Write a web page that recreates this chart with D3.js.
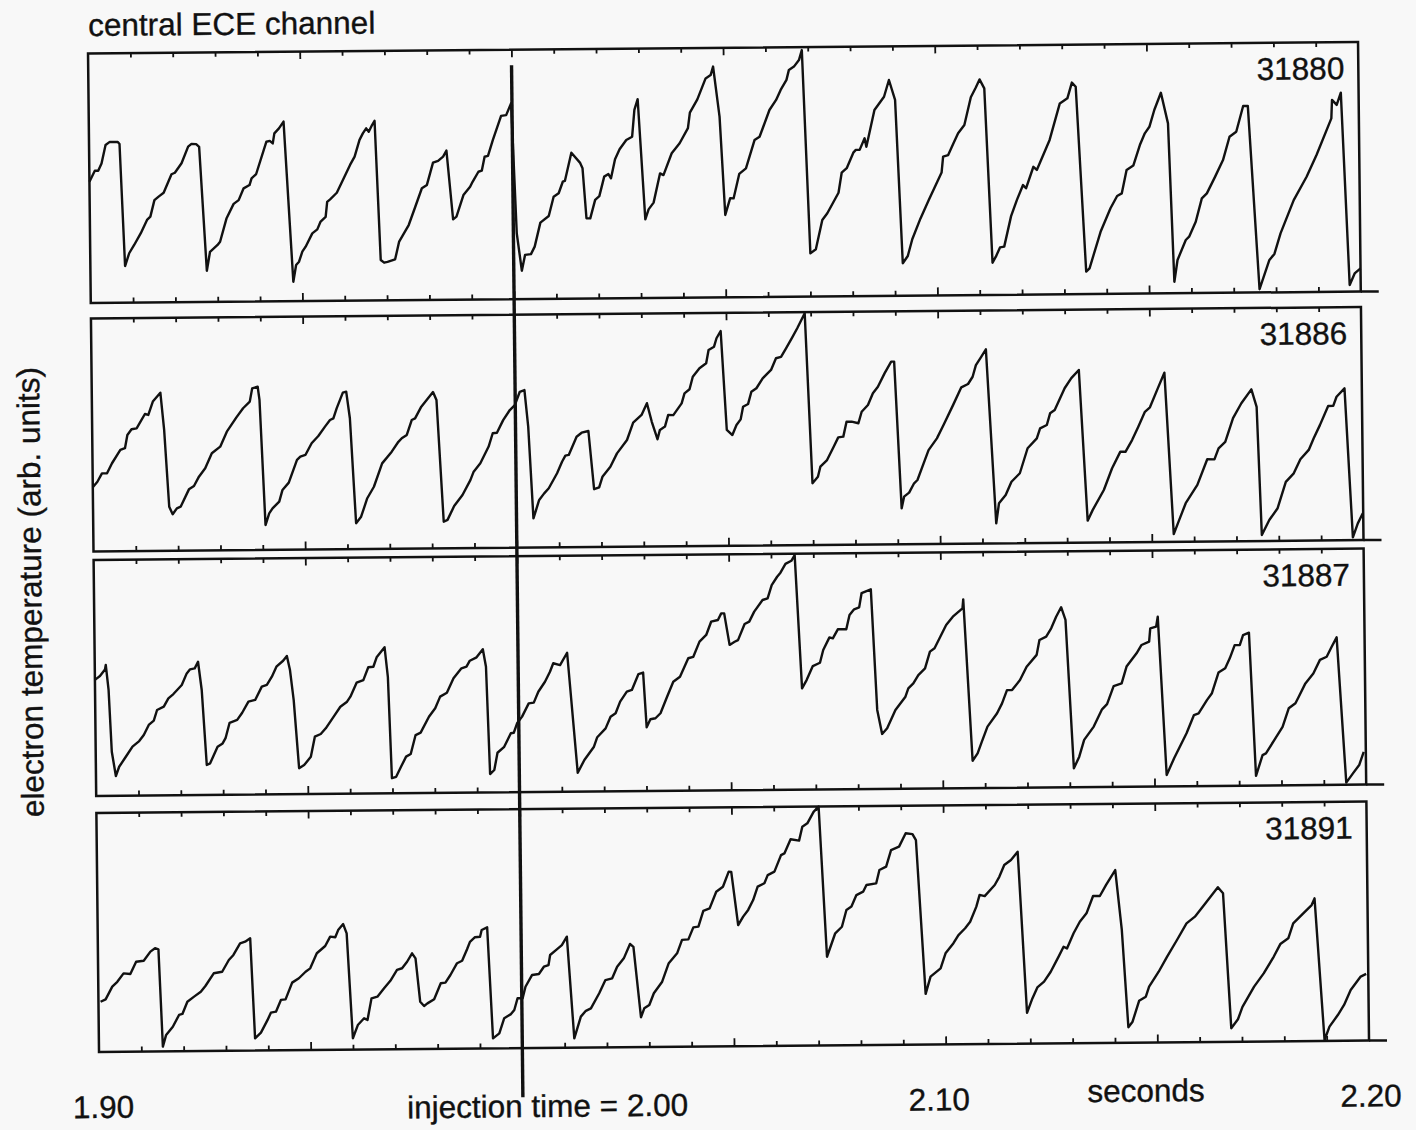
<!DOCTYPE html>
<html>
<head>
<meta charset="utf-8">
<script src="https://cdn.jsdelivr.net/npm/d3@7"></script>
<style>
  html, body { margin: 0; padding: 0; background: #f8f8f8; }
  svg { display: block; }
  text { font-family: "Liberation Sans", Arial, Helvetica, sans-serif; fill: #111; stroke: #111; stroke-width: 0.35px; }
</style>
</head>
<body>
<svg id="chart" width="1416" height="1130"></svg>
<script>
// ---- data -----------------------------------------------------------
const titleText = "central ECE channel";
const yAxisTitle = "electron temperature (arb. units)";
const xAxisTitle = "seconds";
const shotNumbers = ["31880", "31886", "31887", "31891"];
const timeRange = [1.90, 2.20];
const injectionTime = 2.00;
const tickLabelTimes = [1.90, 2.10, 2.20];
const tickLabels = ["1.90", "2.10", "2.20"];

// central electron temperature, [time (s), value (arb. units, 0-100 of panel range)]
const te31880 = [[1.9000,48.6],[1.9013,53.0],[1.9021,53.0],[1.9029,55.9],[1.9039,63.3],[1.9049,64.5],[1.9068,64.4],[1.9072,63.6],[1.9082,14.7],[1.9092,19.8],[1.9104,23.1],[1.9120,27.8],[1.9135,33.1],[1.9143,34.4],[1.9153,41.0],[1.9163,42.4],[1.9175,43.9],[1.9194,51.3],[1.9202,51.9],[1.9218,55.7],[1.9234,62.3],[1.9242,63.4],[1.9253,63.3],[1.9260,62.2],[1.9275,12.5],[1.9283,20.1],[1.9301,22.8],[1.9307,24.1],[1.9323,33.5],[1.9340,39.2],[1.9352,40.7],[1.9364,45.4],[1.9378,46.7],[1.9383,49.4],[1.9394,51.1],[1.9419,64.0],[1.9427,64.3],[1.9434,63.3],[1.9438,67.3],[1.9449,69.3],[1.9460,72.0],[1.9479,7.8],[1.9486,14.5],[1.9493,15.8],[1.9501,19.8],[1.9509,21.8],[1.9525,27.1],[1.9537,28.7],[1.9545,31.8],[1.9557,33.7],[1.9561,39.7],[1.9568,40.7],[1.9584,43.3],[1.9616,54.4],[1.9627,57.7],[1.9639,64.4],[1.9647,67.0],[1.9655,69.0],[1.9661,67.6],[1.9669,70.3],[1.9675,72.0],[1.9686,16.2],[1.9694,15.1],[1.9702,15.4],[1.9720,16.4],[1.9730,23.5],[1.9746,28.1],[1.9753,30.1],[1.9769,37.4],[1.9785,44.8],[1.9797,46.1],[1.9812,55.0],[1.9824,55.7],[1.9836,57.4],[1.9844,59.8],[1.9858,32.2],[1.9866,33.3],[1.9883,41.9],[1.9899,45.2],[1.9905,47.2],[1.9919,51.2],[1.9927,51.6],[1.9934,57.2],[1.9942,57.5],[1.9954,63.9],[1.9974,73.5],[1.9986,73.8],[1.9998,78.5],[2.0008,26.4],[2.0019,11.4],[2.0027,17.7],[2.0041,18.0],[2.0050,21.0],[2.0064,30.6],[2.0084,33.2],[2.0096,40.9],[2.0108,42.3],[2.0118,46.9],[2.0123,47.2],[2.0139,58.5],[2.0159,54.5],[2.0165,52.2],[2.0173,32.2],[2.0182,32.1],[2.0194,39.5],[2.0204,41.0],[2.0216,48.8],[2.0226,49.8],[2.0232,48.1],[2.0242,55.7],[2.0253,59.7],[2.0269,63.4],[2.0283,64.7],[2.0289,75.4],[2.0297,79.7],[2.0312,31.5],[2.0320,35.5],[2.0332,38.2],[2.0348,49.9],[2.0356,49.2],[2.0376,57.9],[2.0395,61.9],[2.0415,67.9],[2.0420,74.1],[2.0438,79.4],[2.0458,87.8],[2.0470,89.1],[2.0476,92.5],[2.0490,72.4],[2.0501,33.0],[2.0513,39.7],[2.0521,39.6],[2.0535,49.4],[2.0551,51.6],[2.0572,62.9],[2.0584,64.2],[2.0608,74.9],[2.0624,78.9],[2.0635,82.9],[2.0649,86.9],[2.0655,90.9],[2.0667,92.2],[2.0679,94.8],[2.0686,98.8],[2.0701,17.3],[2.0714,18.9],[2.0730,30.6],[2.0742,33.3],[2.0769,41.5],[2.0777,49.5],[2.0789,51.3],[2.0805,57.5],[2.0811,58.6],[2.0820,58.6],[2.0832,63.2],[2.0836,59.8],[2.0856,74.5],[2.0879,79.8],[2.0891,86.5],[2.0905,78.5],[2.0919,13.0],[2.0931,15.9],[2.0942,22.6],[2.0962,30.9],[2.0982,38.3],[2.1013,49.2],[2.1017,55.6],[2.1029,56.2],[2.1041,60.6],[2.1053,64.9],[2.1068,68.2],[2.1084,79.3],[2.1096,83.2],[2.1105,86.4],[2.1116,82.8],[2.1131,12.9],[2.1139,15.3],[2.1149,19.0],[2.1159,19.3],[2.1176,31.5],[2.1190,37.9],[2.1205,43.9],[2.1212,42.6],[2.1230,51.2],[2.1238,49.9],[2.1269,61.9],[2.1294,76.5],[2.1312,78.5],[2.1323,84.8],[2.1332,83.1],[2.1352,9.0],[2.1360,10.3],[2.1387,24.9],[2.1411,34.3],[2.1427,39.2],[2.1438,40.2],[2.1450,49.6],[2.1466,51.3],[2.1482,59.5],[2.1494,64.2],[2.1505,66.8],[2.1517,73.5],[2.1533,80.4],[2.1549,68.1],[2.1560,4.6],[2.1568,13.3],[2.1588,21.3],[2.1596,22.6],[2.1612,28.6],[2.1627,37.9],[2.1639,39.9],[2.1659,46.6],[2.1678,53.2],[2.1694,62.5],[2.1710,64.5],[2.1727,74.8],[2.1738,74.8],[2.1761,1.3],[2.1785,13.0],[2.1797,15.4],[2.1812,23.6],[2.1844,36.9],[2.1875,46.2],[2.1899,54.9],[2.1935,69.5],[2.1937,76.9],[2.1948,74.9],[2.1958,79.8],[2.1974,2.7],[2.1986,7.3],[2.2000,9.3]];

const te31886 = [[1.9001,27.8],[1.9011,29.9],[1.9022,33.5],[1.9034,33.5],[1.9046,37.8],[1.9066,43.5],[1.9077,44.2],[1.9083,49.9],[1.9093,52.3],[1.9105,52.7],[1.9113,55.1],[1.9125,58.8],[1.9133,58.4],[1.9144,64.1],[1.9162,67.9],[1.9170,51.9],[1.9180,18.9],[1.9188,15.7],[1.9198,18.2],[1.9207,18.9],[1.9227,26.3],[1.9239,27.7],[1.9251,31.7],[1.9266,35.3],[1.9282,41.7],[1.9302,44.5],[1.9318,50.9],[1.9341,57.0],[1.9357,60.9],[1.9373,63.7],[1.9379,69.4],[1.9392,70.1],[1.9396,64.4],[1.9407,10.7],[1.9416,15.7],[1.9424,17.8],[1.9440,20.7],[1.9448,25.7],[1.9463,28.8],[1.9483,38.5],[1.9491,39.9],[1.9503,40.6],[1.9518,45.6],[1.9534,48.7],[1.9550,52.7],[1.9562,55.5],[1.9570,56.2],[1.9578,60.5],[1.9593,67.2],[1.9601,67.6],[1.9609,56.2],[1.9621,11.1],[1.9633,13.9],[1.9648,21.8],[1.9664,26.7],[1.9684,36.7],[1.9707,41.7],[1.9723,45.9],[1.9731,47.4],[1.9743,48.8],[1.9755,55.2],[1.9763,55.9],[1.9778,60.9],[1.9806,67.1],[1.9814,63.7],[1.9828,11.4],[1.9837,12.2],[1.9853,18.1],[1.9873,22.8],[1.9892,29.2],[1.9900,32.8],[1.9916,36.4],[1.9936,43.5],[1.9946,49.2],[1.9956,49.4],[1.9971,54.8],[1.9987,59.1],[1.9999,61.2],[2.0011,66.9],[2.0022,67.6],[2.0030,51.9],[2.0040,12.5],[2.0054,20.4],[2.0066,23.2],[2.0077,25.4],[2.0097,31.8],[2.0109,36.7],[2.0117,39.3],[2.0125,39.6],[2.0144,47.4],[2.0156,49.1],[2.0172,49.8],[2.0184,24.8],[2.0196,25.6],[2.0204,30.1],[2.0223,34.4],[2.0239,40.1],[2.0263,45.8],[2.0278,53.2],[2.0298,56.5],[2.0311,61.5],[2.0322,53.5],[2.0335,46.0],[2.0341,50.0],[2.0353,51.4],[2.0361,56.4],[2.0373,56.3],[2.0393,61.3],[2.0400,65.6],[2.0412,67.3],[2.0420,72.7],[2.0436,76.3],[2.0452,78.4],[2.0458,84.1],[2.0471,85.5],[2.0477,89.1],[2.0487,92.2],[2.0499,49.7],[2.0512,47.5],[2.0522,51.8],[2.0532,54.2],[2.0538,59.6],[2.0550,60.8],[2.0558,66.0],[2.0570,67.5],[2.0585,71.7],[2.0605,75.3],[2.0617,80.3],[2.0629,80.9],[2.0641,84.5],[2.0656,89.2],[2.0668,93.1],[2.0686,99.5],[2.0700,26.5],[2.0713,29.3],[2.0719,33.6],[2.0735,36.4],[2.0751,42.1],[2.0762,46.1],[2.0774,46.4],[2.0782,52.8],[2.0794,52.8],[2.0810,52.1],[2.0818,57.0],[2.0833,59.9],[2.0845,64.9],[2.0857,67.7],[2.0873,73.4],[2.0889,78.4],[2.0896,78.4],[2.0910,15.4],[2.0916,20.4],[2.0928,22.1],[2.0940,26.1],[2.0948,27.5],[2.0963,34.6],[2.0975,40.3],[2.0995,45.3],[2.1011,51.0],[2.1034,59.5],[2.1054,67.1],[2.1070,68.5],[2.1081,71.6],[2.1089,76.6],[2.1101,79.9],[2.1113,83.3],[2.1133,8.6],[2.1140,17.2],[2.1156,20.7],[2.1170,26.4],[2.1190,30.0],[2.1209,40.7],[2.1231,44.9],[2.1239,49.2],[2.1255,50.6],[2.1263,55.6],[2.1274,57.0],[2.1298,66.3],[2.1314,70.6],[2.1332,74.1],[2.1349,9.4],[2.1361,13.9],[2.1388,22.5],[2.1408,31.8],[2.1428,38.9],[2.1440,38.8],[2.1456,43.8],[2.1471,49.5],[2.1487,55.9],[2.1499,57.8],[2.1518,65.9],[2.1534,72.6],[2.1552,3.3],[2.1562,7.9],[2.1581,16.5],[2.1609,24.3],[2.1633,35.3],[2.1650,35.2],[2.1660,39.9],[2.1676,42.7],[2.1695,52.8],[2.1715,59.2],[2.1739,65.1],[2.1751,57.6],[2.1760,2.6],[2.1778,9.0],[2.1798,14.0],[2.1818,25.3],[2.1837,28.9],[2.1853,34.9],[2.1873,38.9],[2.1885,43.9],[2.1900,49.5],[2.1920,57.7],[2.1932,57.7],[2.1940,61.6],[2.1959,65.2],[2.1975,1.2],[2.1987,7.2],[2.1999,11.5]];

const te31887 = [[1.9000,49.2],[1.9012,50.8],[1.9024,53.6],[1.9026,55.5],[1.9032,44.9],[1.9038,18.7],[1.9047,8.4],[1.9055,12.3],[1.9071,16.5],[1.9087,20.8],[1.9103,23.1],[1.9114,25.7],[1.9126,29.9],[1.9138,31.7],[1.9146,36.2],[1.9162,37.6],[1.9173,41.1],[1.9185,42.9],[1.9205,46.7],[1.9217,51.6],[1.9225,53.3],[1.9236,53.7],[1.9244,56.5],[1.9252,44.5],[1.9262,12.7],[1.9270,13.4],[1.9288,20.4],[1.9300,21.8],[1.9307,24.0],[1.9317,30.5],[1.9335,31.7],[1.9347,34.7],[1.9362,39.4],[1.9378,40.1],[1.9394,45.7],[1.9406,46.4],[1.9418,49.9],[1.9429,54.1],[1.9445,56.6],[1.9454,58.6],[1.9461,52.6],[1.9469,39.9],[1.9480,11.0],[1.9492,12.3],[1.9508,15.8],[1.9518,24.3],[1.9532,25.4],[1.9544,27.8],[1.9563,32.7],[1.9579,36.9],[1.9595,39.0],[1.9603,41.1],[1.9618,47.0],[1.9634,48.1],[1.9646,53.5],[1.9658,53.7],[1.9666,57.7],[1.9685,61.9],[1.9692,49.4],[1.9699,6.4],[1.9709,7.0],[1.9721,11.3],[1.9733,15.5],[1.9744,16.6],[1.9756,24.6],[1.9768,25.6],[1.9788,32.3],[1.9803,35.9],[1.9815,40.8],[1.9831,42.4],[1.9847,48.5],[1.9866,52.7],[1.9878,53.4],[1.9886,55.9],[1.9902,57.3],[1.9917,60.7],[1.9924,53.3],[1.9931,7.8],[1.9941,9.5],[1.9949,16.8],[1.9965,19.3],[1.9981,25.0],[1.9988,25.2],[1.9996,29.2],[2.0008,32.0],[2.0024,37.6],[2.0036,37.9],[2.0047,42.5],[2.0063,46.7],[2.0075,50.9],[2.0083,54.5],[2.0099,53.7],[2.0116,58.9],[2.0138,8.0],[2.0154,13.4],[2.0177,19.0],[2.0185,23.0],[2.0205,26.7],[2.0217,31.6],[2.0229,33.1],[2.0240,38.0],[2.0256,42.2],[2.0268,42.9],[2.0284,49.6],[2.0295,50.2],[2.0302,27.0],[2.0311,30.4],[2.0323,30.8],[2.0335,32.9],[2.0351,39.9],[2.0366,46.2],[2.0382,48.3],[2.0402,56.1],[2.0414,56.7],[2.0429,63.1],[2.0445,65.9],[2.0457,71.5],[2.0473,72.2],[2.0481,75.0],[2.0488,75.0],[2.0500,61.6],[2.0512,62.9],[2.0520,63.6],[2.0536,70.4],[2.0547,71.4],[2.0559,75.6],[2.0579,80.5],[2.0591,81.2],[2.0601,86.8],[2.0614,90.3],[2.0622,92.0],[2.0634,95.7],[2.0648,97.0],[2.0656,99.4],[2.0670,42.9],[2.0681,46.4],[2.0696,52.3],[2.0713,53.7],[2.0721,59.1],[2.0736,64.4],[2.0744,64.0],[2.0756,67.8],[2.0776,67.8],[2.0784,73.8],[2.0795,76.2],[2.0807,77.0],[2.0813,83.0],[2.0835,84.6],[2.0847,33.5],[2.0858,23.3],[2.0870,25.7],[2.0890,33.4],[2.0914,39.0],[2.0921,42.5],[2.0933,44.6],[2.0945,48.1],[2.0961,50.9],[2.0973,58.0],[2.0984,59.4],[2.1012,69.2],[2.1028,72.7],[2.1051,76.2],[2.1053,80.0],[2.1071,11.6],[2.1083,14.7],[2.1092,19.0],[2.1107,26.0],[2.1130,31.6],[2.1142,35.8],[2.1154,41.4],[2.1166,41.4],[2.1185,45.6],[2.1201,51.2],[2.1225,56.2],[2.1232,62.5],[2.1248,63.9],[2.1260,67.4],[2.1272,72.3],[2.1284,76.3],[2.1294,70.9],[2.1310,8.0],[2.1323,12.9],[2.1335,20.0],[2.1358,25.6],[2.1378,32.9],[2.1390,35.1],[2.1406,42.7],[2.1425,43.8],[2.1437,50.9],[2.1461,56.5],[2.1473,60.0],[2.1491,61.4],[2.1494,67.0],[2.1508,67.7],[2.1512,71.9],[2.1529,4.8],[2.1547,11.9],[2.1577,22.4],[2.1595,30.1],[2.1606,30.8],[2.1626,36.4],[2.1638,39.3],[2.1654,48.0],[2.1670,49.8],[2.1681,54.0],[2.1693,59.6],[2.1705,59.6],[2.1713,63.8],[2.1727,64.8],[2.1740,4.1],[2.1756,12.9],[2.1764,13.6],[2.1784,19.2],[2.1804,24.8],[2.1819,32.6],[2.1835,34.7],[2.1843,37.5],[2.1859,43.1],[2.1878,47.3],[2.1894,53.0],[2.1910,54.3],[2.1922,58.5],[2.1934,62.5],[2.1953,0.9],[2.1969,4.8],[2.1984,8.3],[2.1995,13.9]];

const te31891 = [[1.9005,21.0],[1.9017,22.0],[1.9033,27.3],[1.9045,29.3],[1.9060,32.8],[1.9076,32.5],[1.9090,37.6],[1.9108,38.0],[1.9124,41.8],[1.9135,43.2],[1.9143,42.7],[1.9151,2.0],[1.9159,6.9],[1.9175,10.3],[1.9190,15.2],[1.9198,15.6],[1.9210,20.7],[1.9226,22.8],[1.9242,24.8],[1.9253,27.2],[1.9273,32.5],[1.9293,33.1],[1.9309,38.0],[1.9320,40.1],[1.9336,44.9],[1.9348,45.6],[1.9360,47.0],[1.9369,5.1],[1.9383,7.5],[1.9399,12.8],[1.9407,15.8],[1.9419,16.2],[1.9431,21.1],[1.9442,21.3],[1.9458,28.3],[1.9474,30.1],[1.9490,32.8],[1.9501,34.2],[1.9517,40.5],[1.9537,43.5],[1.9549,47.4],[1.9561,47.1],[1.9568,50.1],[1.9580,52.6],[1.9588,48.7],[1.9600,4.8],[1.9612,10.3],[1.9627,13.1],[1.9635,12.4],[1.9645,21.4],[1.9659,22.1],[1.9675,25.6],[1.9690,28.7],[1.9706,33.2],[1.9718,33.9],[1.9730,36.6],[1.9742,40.1],[1.9750,38.0],[1.9760,19.8],[1.9769,18.0],[1.9777,19.1],[1.9793,20.8],[1.9809,27.5],[1.9820,27.7],[1.9832,30.9],[1.9848,35.8],[1.9860,36.8],[1.9872,41.6],[1.9879,44.7],[1.9891,46.6],[1.9903,46.8],[1.9907,49.6],[1.9920,50.7],[1.9931,4.2],[1.9946,6.3],[1.9958,12.6],[1.9974,14.3],[1.9982,16.0],[1.9990,20.9],[2.0002,20.9],[2.0009,25.7],[2.0025,30.6],[2.0041,31.0],[2.0053,34.0],[2.0064,34.7],[2.0068,38.9],[2.0084,41.2],[2.0096,43.0],[2.0108,46.5],[2.0123,3.9],[2.0139,13.0],[2.0151,15.4],[2.0163,16.4],[2.0183,22.7],[2.0198,28.2],[2.0214,28.9],[2.0226,33.7],[2.0242,37.2],[2.0257,43.2],[2.0265,42.0],[2.0281,12.5],[2.0289,16.2],[2.0301,17.6],[2.0312,22.5],[2.0332,27.3],[2.0348,35.0],[2.0368,39.1],[2.0380,44.7],[2.0395,44.9],[2.0407,49.9],[2.0419,50.2],[2.0431,56.8],[2.0446,57.8],[2.0462,64.7],[2.0478,66.8],[2.0492,73.1],[2.0498,73.0],[2.0513,50.7],[2.0525,54.2],[2.0537,57.0],[2.0549,61.1],[2.0560,66.7],[2.0576,68.1],[2.0584,71.5],[2.0600,72.9],[2.0616,79.8],[2.0624,80.5],[2.0639,86.4],[2.0659,85.8],[2.0667,91.6],[2.0679,93.0],[2.0694,97.8],[2.0706,100.0],[2.0722,37.1],[2.0742,46.9],[2.0758,49.6],[2.0769,56.6],[2.0781,58.0],[2.0793,62.8],[2.0809,64.2],[2.0817,67.0],[2.0840,67.6],[2.0848,73.2],[2.0864,74.6],[2.0876,81.5],[2.0895,82.9],[2.0911,88.5],[2.0927,88.1],[2.0935,85.6],[2.0954,21.2],[2.0966,28.4],[2.0990,31.8],[2.1002,38.1],[2.1021,42.3],[2.1033,45.7],[2.1049,48.5],[2.1061,51.2],[2.1076,57.5],[2.1084,62.4],[2.1096,61.9],[2.1120,66.5],[2.1131,69.9],[2.1143,74.8],[2.1159,76.9],[2.1175,80.3],[2.1193,12.9],[2.1206,18.9],[2.1218,23.5],[2.1234,25.9],[2.1250,30.0],[2.1269,36.3],[2.1281,40.4],[2.1289,39.7],[2.1305,46.0],[2.1320,50.8],[2.1336,54.3],[2.1352,61.5],[2.1368,61.5],[2.1383,66.1],[2.1405,72.3],[2.1419,47.2],[2.1432,6.5],[2.1442,8.8],[2.1458,17.5],[2.1474,19.2],[2.1482,23.4],[2.1505,29.6],[2.1525,35.8],[2.1549,42.8],[2.1572,49.7],[2.1592,52.5],[2.1620,58.7],[2.1647,64.7],[2.1659,62.2],[2.1675,5.7],[2.1691,9.4],[2.1702,14.6],[2.1730,23.0],[2.1753,28.5],[2.1777,35.4],[2.1793,40.7],[2.1812,43.1],[2.1824,49.3],[2.1848,53.5],[2.1868,56.9],[2.1875,59.7],[2.1895,0.4],[2.1907,6.0],[2.1927,10.8],[2.1942,15.0],[2.1958,21.2],[2.1982,26.8],[2.1995,27.9]];

const traces = [te31880, te31886, te31887, te31891];

// ---- layout ---------------------------------------------------------
const W = 1416, H = 1130;
const ink = "#111";
const fontSize = 31.5;
const plotLeft = 93.6, plotRight = 1363.6;
const panelBands = [[53.5, 303], [318.5, 551.5], [560, 796], [813, 1052]]; // [top, bottom]
const axisOverhang = 18;
const skewX = 0.011, skewY = -0.009;   // slight shear of the whole sheet
const pivotX = plotLeft, pivotY = 560;
const tickLabelDx = [4, -7, 1.5];

const x = d3.scaleLinear().domain(timeRange).range([plotLeft, plotRight]);
const tickTimes = d3.range(1, 30).map(i => +(timeRange[0] + i * 0.01).toFixed(2));
const majorTicks = tickTimes.filter(t => Math.round(t * 100) % 5 === 0);
const minorTicks = tickTimes.filter(t => Math.round(t * 100) % 5 !== 0);

const svg = d3.select("#chart");
svg.append("rect").attr("width", W).attr("height", H).attr("fill", "#f8f8f8");

const g = svg.append("g")
  .attr("transform", `matrix(1,${skewY},${skewX},1,${-skewX * pivotY},${-skewY * pivotX})`);

function tickRow(parent, axisFn, yPos, values, size) {
  parent.append("g")
    .attr("transform", `translate(0,${yPos})`)
    .call(axisFn(x).tickValues(values).tickSize(size).tickSizeOuter(0).tickFormat(""))
    .call(s => s.select(".domain").remove())
    .call(s => s.selectAll(".tick line").attr("stroke", ink).attr("stroke-width", 1.8));
}

panelBands.forEach(([top, bottom], i) => {
  const y = d3.scaleLinear().domain([0, 100]).range([bottom, top]);
  const pg = g.append("g").attr("class", "panel");

  // frame
  pg.append("rect")
    .attr("x", plotLeft).attr("y", top)
    .attr("width", plotRight - plotLeft).attr("height", bottom - top)
    .attr("fill", "none").attr("stroke", ink).attr("stroke-width", 2.5);
  // time axis baseline runs a little past the frame
  pg.append("line")
    .attr("x1", plotRight).attr("x2", plotRight + axisOverhang)
    .attr("y1", bottom).attr("y2", bottom)
    .attr("stroke", ink).attr("stroke-width", 2.5);

  // inward ticks, every 10 ms, longer at 50 ms
  tickRow(pg, d3.axisTop, top, minorTicks, -4.5);
  tickRow(pg, d3.axisTop, top, majorTicks, -7.5);
  tickRow(pg, d3.axisBottom, bottom, minorTicks, -5);
  tickRow(pg, d3.axisBottom, bottom, majorTicks, -8);

  // ECE trace
  pg.append("path")
    .datum(traces[i])
    .attr("d", d3.line().x(d => x(d[0])).y(d => y(d[1])))
    .attr("fill", "none")
    .attr("stroke", ink)
    .attr("stroke-width", 2.4)
    .attr("stroke-linejoin", "round");

  // shot number
  pg.append("text")
    .attr("x", plotRight - 14).attr("y", top + 37)
    .attr("text-anchor", "end")
    .attr("font-size", fontSize)
    .text(shotNumbers[i]);
});

// injection marker
g.append("line")
  .attr("x1", x(injectionTime)).attr("x2", x(injectionTime))
  .attr("y1", 69).attr("y2", 1101)
  .attr("stroke", ink).attr("stroke-width", 3.4);

// titles and labels
g.append("text")
  .attr("x", 94).attr("y", 36)
  .attr("font-size", fontSize)
  .text(titleText);

g.append("text")
  .attr("transform", "translate(41,591.5) rotate(-90)")
  .attr("text-anchor", "middle")
  .attr("font-size", fontSize)
  .text(yAxisTitle);

tickLabelTimes.forEach((t, k) => {
  g.append("text")
    .attr("x", x(t) + tickLabelDx[k]).attr("y", 1118)
    .attr("text-anchor", "middle")
    .attr("font-size", fontSize)
    .text(tickLabels[k]);
});

g.append("text")
  .attr("x", 401).attr("y", 1121)
  .attr("font-size", fontSize)
  .text(`injection time = ${injectionTime.toFixed(2)}`);

g.append("text")
  .attr("x", 1140).attr("y", 1111)
  .attr("text-anchor", "middle")
  .attr("font-size", fontSize)
  .text(xAxisTitle);
</script>
</body>
</html>
